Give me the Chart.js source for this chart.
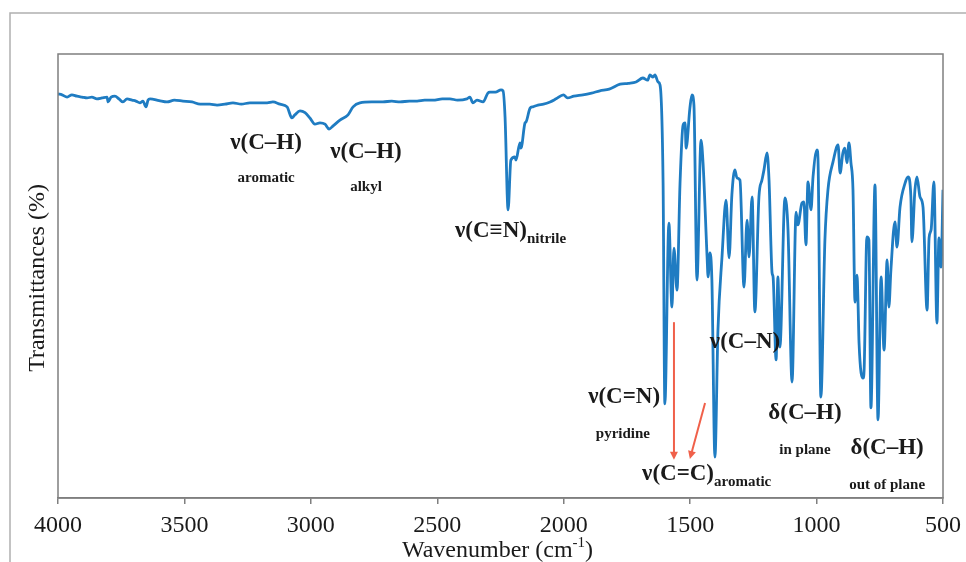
<!DOCTYPE html>
<html>
<head>
<meta charset="utf-8">
<script src="https://cdn.jsdelivr.net/npm/chart.js@4.4.1/dist/chart.umd.min.js"></script>
<style>
  html, body { margin: 0; padding: 0; background: #fff; }
</style>
</head>
<body>
<canvas id="ir" width="966" height="562"></canvas>
<script>
// FTIR spectrum (wavenumber in cm-1, transmittance in arbitrary %)
const wavenumbers = [
  4000, 3984, 3964, 3945, 3925, 3905, 3885, 3866, 3846, 3826, 3806, 3802, 3790, 3775, 3759, 3743,
  3727, 3707, 3692, 3676, 3664, 3652, 3644, 3636, 3600, 3569, 3540, 3506, 3470, 3438, 3400, 3371,
  3340, 3308, 3275, 3241, 3210, 3173, 3150, 3122, 3094, 3075, 3063, 3043, 3023, 3004, 2984, 2964,
  2944, 2928, 2912, 2885, 2853, 2833, 2806, 2760, 2715, 2680, 2647, 2610, 2580, 2550, 2517, 2480,
  2450, 2420, 2383, 2371, 2359, 2343, 2319, 2300, 2292, 2270, 2248, 2240, 2232, 2220, 2209, 2193,
  2189, 2173, 2169, 2153, 2149, 2133, 2122, 2102, 2080, 2054, 2030, 2001, 1985, 1960, 1924, 1890,
  1857, 1820, 1777, 1745, 1714, 1687, 1668, 1659, 1647, 1639, 1627, 1619,
  1607, 1600, 1584, 1572, 1564, 1552, 1540, 1528, 1520, 1516, 1501, 1493, 1485, 1473, 1457, 1449,
  1433, 1429, 1422, 1414, 1402, 1390, 1374, 1358, 1346, 1335, 1323, 1315, 1303, 1287, 1275, 1267,
  1255, 1244, 1228, 1216, 1208, 1196, 1188, 1176, 1172, 1160, 1153, 1145, 1125, 1113, 1097, 1081,
  1074, 1058, 1050, 1042, 1034, 1022, 1014, 998, 994, 983, 967, 955, 935, 915, 907, 896,
  888, 880, 872, 864, 856, 848, 840, 836, 832, 816, 812, 801, 793, 785, 769, 757,
  745, 733, 721, 714, 706, 690, 682, 670, 650, 638, 627, 623, 611, 603, 591, 579,
  563, 555, 547, 536, 524, 516, 508, 500
];
const transmittance = [
  91.0, 90.8, 90.3, 90.8, 90.5, 90.3, 90.1, 90.3, 89.9, 90.1, 90.3, 89.2, 90.3, 90.5, 89.9, 89.2,
  89.9, 89.6, 89.4, 89.0, 89.4, 88.1, 89.6, 89.9, 89.5, 89.2, 89.6, 89.4, 89.2, 88.7, 88.7, 88.5,
  88.7, 89.0, 88.7, 89.0, 89.0, 89.0, 89.2, 88.7, 88.1, 85.6, 86.3, 87.2, 86.8, 85.6, 84.2, 84.5,
  84.2, 83.1, 83.8, 85.1, 86.3, 88.1, 89.0, 89.2, 89.2, 89.4, 89.2, 89.4, 89.4, 89.6, 89.6, 89.9,
  89.9, 89.6, 89.9, 90.3, 89.0, 89.6, 89.2, 91.2, 91.4, 91.4, 91.9, 91.7, 85.8, 64.9, 76.1, 76.8,
  76.1, 80.0, 78.8, 84.5, 84.7, 87.8, 88.1, 88.5, 88.7, 89.2, 89.9, 90.8, 90.1, 90.5, 90.8, 91.2,
  91.7, 92.1, 93.2, 93.4, 93.7, 94.6, 94.1, 95.3, 94.8, 95.3, 93.7, 93.0,
  70.9, 21.2, 61.9, 43.0, 56.3, 46.8, 70.9, 84.0, 84.5, 78.8, 87.8, 90.8, 88.5, 49.1, 80.6, 75.5,
  54.3, 49.8, 55.2, 49.1, 9.2, 37.8, 54.3, 67.1, 54.1, 68.2, 73.9, 72.1, 71.6, 47.5, 62.6, 54.3,
  67.8, 41.9, 67.8, 71.6, 73.9, 77.7, 71.6, 50.7, 49.8, 31.1, 49.8, 34.0, 67.6, 60.4, 26.1, 64.4,
  61.5, 66.4, 66.7, 57.0, 71.2, 64.9, 72.3, 78.4, 75.5, 22.7, 58.1, 69.4, 75.7, 79.5, 73.2, 77.7,
  78.8, 75.5, 80.0, 75.5, 69.4, 44.1, 50.2, 43.9, 34.9, 27.0, 28.8, 58.8, 58.1, 20.3, 70.5, 17.6,
  49.8, 33.3, 53.6, 43.0, 51.4, 62.2, 56.5, 65.5, 70.9, 72.3, 67.8, 57.7, 69.4, 72.3, 67.8, 65.5,
  42.3, 58.6, 60.4, 71.2, 39.4, 58.6, 52.0, 69.4
];
const xTickValues = [4000, 3500, 3000, 2500, 2000, 1500, 1000, 500];

// band assignments: anchor in data units (wavenumber, transmittance)
const bandLabels = [
  { text: 'ν(C–H)', w: 3177, t: 80.0, size: 23, align: 'center' },
  { text: 'aromatic', w: 3177, t: 72.1, size: 15, align: 'center' },
  { text: 'ν(C–H)', w: 2782, t: 77.9, size: 23, align: 'center' },
  { text: 'alkyl', w: 2782, t: 70.0, size: 15, align: 'center' },
  { text: 'ν(C≡N)', sub: 'nitrile', w: 2430, t: 60.1, size: 23, align: 'left' },
  { text: 'ν(C=N)', w: 1619, t: 22.7, size: 23, align: 'right' },
  { text: 'pyridine', w: 1766, t: 14.4, size: 15, align: 'center' },
  { text: 'ν(C=C)', sub: 'aromatic', w: 1690, t: 5.4, size: 23, align: 'left' },
  { text: 'ν(C–N)', w: 1422, t: 35.1, size: 23, align: 'left' },
  { text: 'δ(C–H)', w: 1046, t: 19.1, size: 23, align: 'center' },
  { text: 'in plane', w: 1046, t: 10.8, size: 15, align: 'center' },
  { text: 'δ(C–H)', w: 721, t: 11.3, size: 23, align: 'center' },
  { text: 'out of plane', w: 721, t: 2.9, size: 15, align: 'center' }
];
const arrows = [
  { w0: 1564, t0: 39.6, w1: 1564, t1: 8.6 },
  { w0: 1441, t0: 21.4, w1: 1501, t1: 8.8 }
];

const serif = '"Liberation Serif", "Times New Roman", serif';

const decorations = {
  id: 'decorations',
  afterDraw(chart) {
    const ctx = chart.ctx;
    const area = chart.chartArea;
    const xs = chart.scales.x, ys = chart.scales.y;
    ctx.save();

    // outer figure frame (left and top only)
    ctx.strokeStyle = '#b0b0b0';
    ctx.lineWidth = 1.5;
    ctx.beginPath();
    ctx.moveTo(10, 562);
    ctx.lineTo(10, 13);
    ctx.lineTo(966, 13);
    ctx.stroke();

    // plot box
    ctx.strokeStyle = '#7f7f7f';
    ctx.lineWidth = 1.5;
    ctx.strokeRect(area.left, area.top, area.right - area.left, area.bottom - area.top);

    // labels
    ctx.fillStyle = '#1a1a1a';
    ctx.textBaseline = 'middle';
    bandLabels.forEach(l => {
      const px = xs.getPixelForValue(l.w);
      const py = ys.getPixelForValue(l.t);
      ctx.font = 'bold ' + l.size + 'px ' + serif;
      const mw = ctx.measureText(l.text).width;
      let sw = 0;
      if (l.sub) {
        ctx.font = 'bold 15px ' + serif;
        sw = ctx.measureText(l.sub).width;
      }
      let x0 = px;
      if (l.align === 'center') x0 = px - (mw + sw) / 2;
      if (l.align === 'right') x0 = px - mw - sw;
      ctx.textAlign = 'left';
      ctx.font = 'bold ' + l.size + 'px ' + serif;
      ctx.fillText(l.text, x0, py);
      if (l.sub) {
        ctx.font = 'bold 15px ' + serif;
        ctx.fillText(l.sub, x0 + mw, py + 8);
      }
    });

    // red arrows
    ctx.strokeStyle = '#f0604a';
    ctx.fillStyle = '#f0604a';
    ctx.lineWidth = 2;
    arrows.forEach(a => {
      const x0 = xs.getPixelForValue(a.w0), y0 = ys.getPixelForValue(a.t0);
      const x1 = xs.getPixelForValue(a.w1), y1 = ys.getPixelForValue(a.t1);
      const ang = Math.atan2(y1 - y0, x1 - x0);
      ctx.beginPath();
      ctx.moveTo(x0, y0);
      ctx.lineTo(x1 - 6 * Math.cos(ang), y1 - 6 * Math.sin(ang));
      ctx.stroke();
      ctx.beginPath();
      ctx.moveTo(x1, y1);
      ctx.lineTo(x1 - 8 * Math.cos(ang) + 4 * Math.sin(ang), y1 - 8 * Math.sin(ang) - 4 * Math.cos(ang));
      ctx.lineTo(x1 - 8 * Math.cos(ang) - 4 * Math.sin(ang), y1 - 8 * Math.sin(ang) + 4 * Math.cos(ang));
      ctx.closePath();
      ctx.fill();
    });

    // axis titles
    ctx.fillStyle = '#1a1a1a';
    ctx.font = '24px ' + serif;
    ctx.textAlign = 'left';
    const t1 = 'Wavenumber (cm', t2 = ')';
    const w1 = ctx.measureText(t1).width, w2 = ctx.measureText(t2).width;
    ctx.font = '15px ' + serif;
    const wsup = ctx.measureText('-1').width;
    const cx = (area.left + area.right) / 2 - 3;
    let xx = cx - (w1 + wsup + w2) / 2;
    const ty = 551;
    ctx.font = '24px ' + serif;
    ctx.fillText(t1, xx, ty);
    ctx.font = '15px ' + serif;
    ctx.fillText('-1', xx + w1, ty - 8);
    ctx.font = '24px ' + serif;
    ctx.fillText(t2, xx + w1 + wsup, ty);

    ctx.translate(38, (area.top + area.bottom) / 2 + 2);
    ctx.rotate(-Math.PI / 2);
    ctx.textAlign = 'center';
    ctx.fillText('Transmittances (%)', 0, 0);
    ctx.restore();
  }
};

new Chart(document.getElementById('ir'), {
  type: 'line',
  data: {
    datasets: [{
      data: wavenumbers.map((w, i) => ({ x: w, y: transmittance[i] })),
      borderColor: '#1f7cc2',
      borderWidth: 2.8,
      pointRadius: 0,
      cubicInterpolationMode: 'monotone',
      borderJoinStyle: 'round',
      fill: false
    }]
  },
  options: {
    responsive: false,
    animation: false,
    devicePixelRatio: 1,
    layout: { padding: { left: 58, right: 23, top: 54, bottom: 0 } },
    plugins: { legend: { display: false }, tooltip: { enabled: false } },
    scales: {
      x: {
        type: 'linear',
        reverse: true,
        min: 500,
        max: 4000,
        afterBuildTicks: scale => { scale.ticks = xTickValues.map(v => ({ value: v })); },
        afterFit: scale => {
          scale.height = 64;
          scale.paddingLeft = 0;
          scale.paddingRight = 0;
        },
        grid: { drawOnChartArea: false, drawTicks: true, tickLength: 6, color: '#7f7f7f', lineWidth: 1.5 },
        border: { display: true, color: '#7f7f7f', width: 1.5 },
        ticks: {
          font: { family: serif, size: 24 },
          color: '#1a1a1a',
          padding: 7,
          maxRotation: 0,
          callback: v => String(v)
        }
      },
      y: { display: false, min: 0, max: 100 }
    }
  },
  plugins: [decorations]
});
</script>
</body>
</html>
